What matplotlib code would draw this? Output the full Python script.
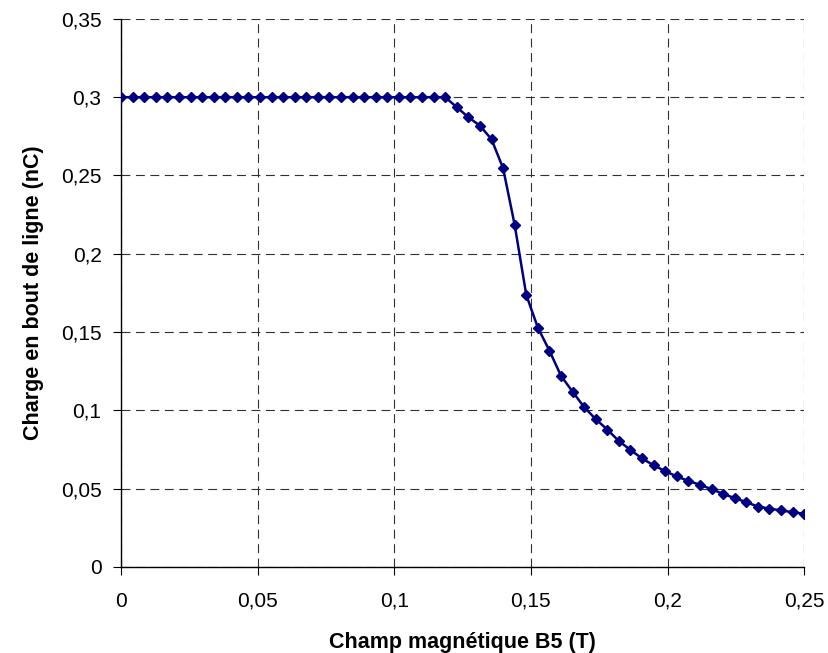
import numpy as np
import matplotlib
matplotlib.use("Agg")
import matplotlib.pyplot as plt
from matplotlib.ticker import FuncFormatter, MultipleLocator

plt.rcParams['font.family'] = ['Liberation Sans', 'DejaVu Sans']

# Champ magnetique B5 (T): 60 points evenly spread over 0 - 0.25
champ_b5 = np.linspace(0, 0.25, 60)

# Charge en bout de ligne (nC)
charge = [0.300] * 29 + [
    0.2936, 0.2872, 0.2818, 0.2731, 0.2546, 0.2184, 0.1737, 0.1528,
    0.1381, 0.1220, 0.1119, 0.1020, 0.0943, 0.0877, 0.0803, 0.0747,
    0.0692, 0.0649, 0.0611, 0.0577, 0.0549, 0.0524, 0.0496, 0.0466,
    0.0439, 0.0413, 0.0385, 0.0372, 0.0360, 0.0349, 0.0338,
]

x_label = "Champ magnétique B5 (T)"
y_label = "Charge en bout de ligne (nC)"


def virgule(val, pos):
    # French decimal comma
    return f"{val:g}".replace(".", ",")


fig = plt.figure(figsize=(8.29, 6.53), dpi=100)
ax = fig.add_axes([0.146, 0.132, 0.824, 0.839])

ax.plot(champ_b5, charge, color="#000080", lw=1.8, marker="D",
        markersize=4.6, markerfacecolor="#000080", markeredgecolor="#000080",
        zorder=3)

ax.set_xlim(0, 0.25)
ax.set_ylim(0, 0.35)
ax.xaxis.set_major_locator(MultipleLocator(0.05))
ax.yaxis.set_major_locator(MultipleLocator(0.05))
ax.xaxis.set_major_formatter(FuncFormatter(virgule))
ax.yaxis.set_major_formatter(FuncFormatter(virgule))

ax.grid(True, color="#303030", linestyle=(0, (8, 5)), linewidth=0.8)
for side in ("top", "right"):
    ax.spines[side].set_visible(False)
for side in ("left", "bottom"):
    ax.spines[side].set_linewidth(1.0)
    ax.spines[side].set_color("black")

ax.tick_params(direction="out", length=6, width=0.8, labelsize=15, pad=8)
ax.tick_params(axis="x", pad=12)

ax.set_xlabel(x_label, fontsize=15.5, fontweight="bold", labelpad=15)
ax.set_ylabel(y_label, fontsize=15.5, fontweight="bold", labelpad=12)

fig.savefig("out.png", dpi=100)
